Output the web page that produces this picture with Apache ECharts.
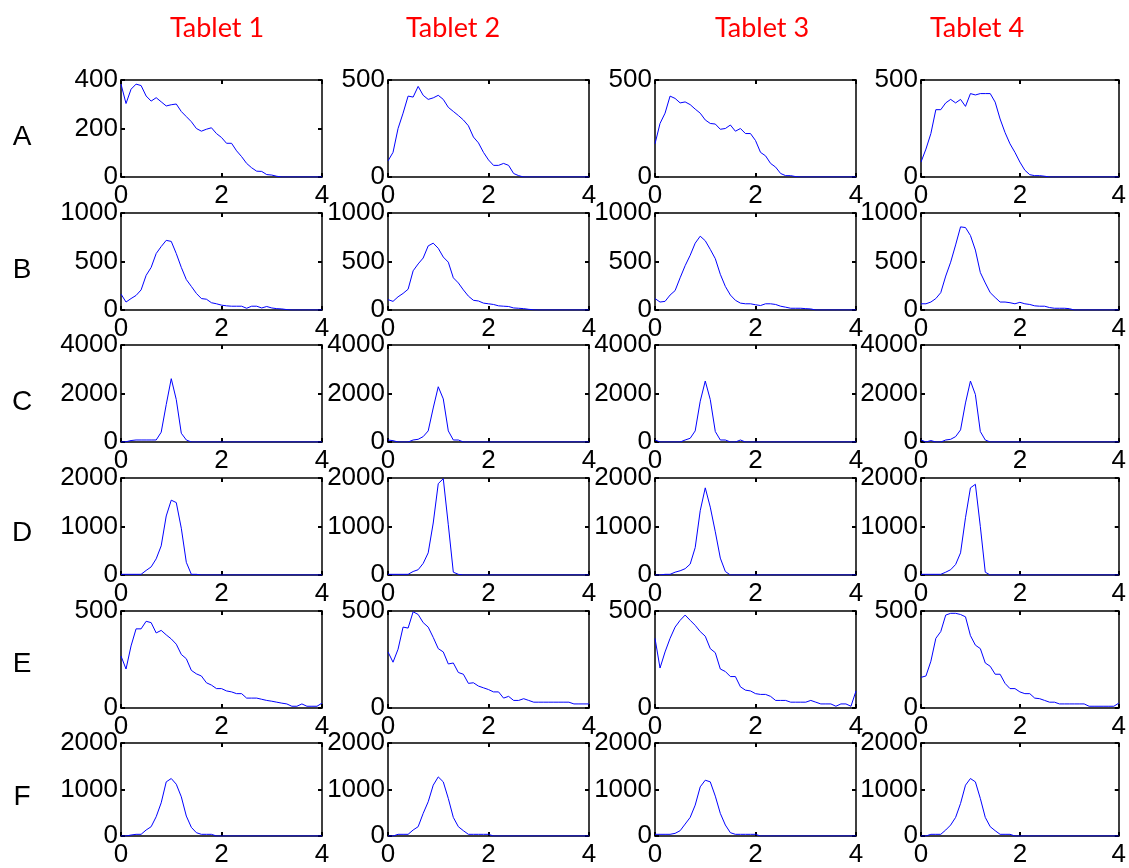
<!DOCTYPE html>
<html><head><meta charset="utf-8">
<script src="https://cdn.jsdelivr.net/npm/echarts@6/dist/echarts.min.js"></script>
<style>html,body{margin:0;padding:0;background:#fff}#c{width:1129px;height:868px}</style>
</head><body><div id="c"></div>
<script>
const xs = [0,0.1,0.2,0.3,0.4,0.5,0.6,0.7,0.8,0.9,1,1.1,1.2,1.3,1.4,1.5,1.6,1.7,1.8,1.9,2,2.1,2.2,2.3,2.4,2.5,2.6,2.7,2.8,2.9,3,3.1,3.2,3.3,3.4,3.5,3.6,3.7,3.8,3.9,4];
const columnTitles = ['Tablet 1','Tablet 2','Tablet 3','Tablet 4'];
const rowNames = ['A','B','C','D','E','F'];
const xTicks = [0,2,4];
const yMax = [[400,500,500,500],[1000,1000,1000,1000],[4000,4000,4000,4000],[2000,2000,2000,2000],[500,500,500,500],[2000,2000,2000,2000]];
const yStep = [[200,500,500,500],[500,500,500,500],[2000,2000,2000,2000],[1000,1000,1000,1000],[500,500,500,500],[1000,1000,1000,1000]];

const a1 = [383,303,362,383,377,334,313,327,310,293,298,301,270,249,228,200,189,197,203,179,163,139,139,108,84,56,38,24,23,10,8,3,0,0,0,0,0,0,0,0,0];
const a2 = [83,127,250,329,417,412,467,421,400,408,421,400,359,338,317,294,264,206,176,127,88,60,60,70,60,18,7,0,0,0,0,0,0,0,0,0,0,0,0,0,0];
const a3 = [171,276,329,417,405,382,387,373,350,329,294,276,273,246,250,268,236,250,224,224,188,127,109,70,51,18,7,7,2,0,0,0,0,0,0,0,0,0,0,0,0];
const a4 = [77,144,224,347,347,382,400,382,400,364,430,423,430,430,430,386,299,229,171,127,77,35,12,7,7,4,0,0,0,0,0,0,0,0,0,0,0,0,0,0,0];
const b1 = [164,82,118,150,207,357,439,582,654,718,707,582,439,314,243,171,118,111,75,64,50,43,39,39,39,18,39,39,21,36,21,14,11,4,0,0,0,0,0,0,0];
const b2 = [107,89,136,171,214,404,475,536,661,689,636,546,493,332,279,207,143,100,93,71,64,57,43,39,36,21,18,14,7,2,0,0,0,0,0,0,0,0,0,0,0];
const b3 = [118,82,89,154,200,332,457,564,689,761,714,625,529,368,243,154,100,71,64,64,54,46,64,64,57,39,29,18,18,18,14,11,0,0,0,0,0,0,0,0,0];
const b4 = [64,64,82,118,179,350,493,671,857,850,768,618,386,279,179,129,82,82,75,64,79,64,57,43,39,39,25,18,18,18,14,0,0,0,0,0,0,0,0,0,0];
const c1 = [0,10,60,83,83,83,83,83,403,1542,2611,1750,361,83,0,0,0,0,0,0,0,0,0,0,0,0,0,0,0,0,0,0,0,0,0,0,0,0,0,0,0];
const c2 = [83,56,0,0,0,83,111,222,458,1403,2278,1778,458,83,83,0,0,0,0,0,0,0,0,0,0,0,0,0,0,0,0,0,0,0,0,0,0,0,0,0,0];
const c3 = [83,0,0,0,0,0,83,153,458,1681,2514,1750,431,83,83,0,0,83,0,0,0,0,0,0,0,0,0,0,0,0,0,0,0,0,0,0,0,0,0,0,0];
const c4 = [83,0,60,0,0,83,111,222,500,1611,2514,1958,431,83,0,0,0,0,0,0,0,0,0,0,0,0,0,0,0,0,0,0,0,0,0,0,0,0,0,0,0];
const d1 = [14,14,14,14,14,94,167,333,601,1217,1543,1493,964,261,14,14,0,0,0,0,0,0,0,0,0,0,0,0,0,0,0,0,0,0,0,0,0,0,0,0,0];
const d2 = [14,14,14,14,14,72,109,239,457,1072,1884,1986,1036,58,14,0,0,0,0,0,0,0,0,0,0,0,0,0,0,0,0,0,0,0,0,0,0,0,0,0,0];
const d3 = [0,0,14,14,58,87,130,225,565,1326,1797,1399,891,348,72,0,0,0,0,0,0,0,0,0,0,0,0,0,0,0,0,0,0,0,0,0,0,0,0,0,0];
const d4 = [14,14,14,14,14,58,109,217,457,1181,1797,1870,1000,58,0,0,0,0,0,0,0,0,0,0,0,0,0,0,0,0,0,0,0,0,0,0,0,0,0,0,0];
const e1 = [268,201,320,408,408,447,440,387,400,377,356,329,276,254,194,176,165,130,118,100,100,88,83,74,74,51,51,51,45,39,35,30,25,21,9,9,21,9,9,9,25];
const e2 = [289,236,303,417,412,496,482,440,417,364,306,289,227,232,183,174,127,130,113,104,95,83,83,51,60,39,39,48,39,30,30,30,30,30,30,30,30,21,21,21,21];
const e3 = [359,206,289,359,417,452,479,452,426,394,370,306,285,201,188,162,162,109,92,88,74,70,70,60,39,39,39,30,30,30,30,39,30,21,21,21,9,21,21,9,88];
const e4 = [158,165,241,359,394,479,488,488,482,470,373,324,306,232,215,174,174,127,100,100,83,74,74,51,48,39,30,30,21,21,21,21,21,21,9,9,9,9,9,9,25];
const f1 = [0,0,21,36,36,129,200,414,714,1164,1236,1114,843,429,186,71,36,36,36,0,0,0,0,0,0,0,0,0,0,0,0,0,0,0,0,0,0,0,0,0,0];
const f2 = [0,0,36,36,36,129,200,486,736,1093,1271,1164,807,400,200,114,36,36,36,36,36,0,0,0,0,0,0,0,0,0,0,0,0,0,0,0,0,0,0,0,0];
const f3 = [36,36,36,36,57,114,257,400,664,1057,1200,1164,857,486,236,71,36,36,36,36,36,0,0,0,0,0,0,0,0,0,0,0,0,0,0,0,0,0,0,0,0];
const f4 = [0,0,36,36,36,129,236,400,700,1093,1236,1164,807,400,200,114,36,36,36,0,0,0,0,0,0,0,0,0,0,0,0,0,0,0,0,0,0,0,0,0,0];

const panels = [[a1,a2,a3,a4],[b1,b2,b3,b4],[c1,c2,c3,c4],[d1,d2,d3,d4],[e1,e2,e3,e4],[f1,f2,f3,f4]];

const colLeft = [121, 388, 655, 921];
const rowTop = [80, 213, 345, 478, 611, 743];
const W = 201, H = 97;
const labelFont = {fontFamily: "'Liberation Sans', Arial, sans-serif", fontSize: 26, color: '#000', formatter: v => String(v)};

const grid = [], xAxis = [], yAxis = [], series = [];
let g = 0;
for (let r = 0; r < 6; r++) {
  for (let c = 0; c < 4; c++) {
    grid.push({left: colLeft[c], top: rowTop[r], width: W, height: H, show: false, containLabel: false});
    const line = {show: true, onZero: false, lineStyle: {color: '#000', width: 1.5}};
    const tick = {show: true, inside: true, length: 4, lineStyle: {color: '#000', width: 2}};
    xAxis.push({type: 'value', gridIndex: g, min: xTicks[0], max: xTicks[2], interval: xTicks[1] - xTicks[0], position: 'bottom',
      axisLine: line, axisTick: tick, splitLine: {show: false},
      axisLabel: Object.assign({margin: 6}, labelFont)});
    xAxis.push({type: 'value', gridIndex: g, min: xTicks[0], max: xTicks[2], interval: xTicks[1] - xTicks[0], position: 'top',
      axisLine: line, axisTick: tick, splitLine: {show: false}, axisLabel: {show: false}});
    yAxis.push({type: 'value', gridIndex: g, min: 0, max: yMax[r][c], interval: yStep[r][c], position: 'left',
      axisLine: line, axisTick: tick, splitLine: {show: false},
      axisLabel: Object.assign({margin: 3}, labelFont)});
    yAxis.push({type: 'value', gridIndex: g, min: 0, max: yMax[r][c], interval: yStep[r][c], position: 'right',
      axisLine: line, axisTick: tick, splitLine: {show: false}, axisLabel: {show: false}});
    series.push({type: 'line', xAxisIndex: 2 * g, yAxisIndex: 2 * g, showSymbol: false, symbol: 'none',
      lineStyle: {color: '#0000ff', width: 1}, data: xs.map((x, i) => [x, panels[r][c][i]]), z: 1});
    g++;
  }
}

const titleX = [217, 453, 762, 977];
const rowY = [137, 270, 402, 533, 664, 797];
const graphic = [];
columnTitles.forEach((t, i) => graphic.push({type: 'text', x: titleX[i], y: 28,
  style: {text: t, fill: '#ff0000', font: '27px Lato', textAlign: 'center', textVerticalAlign: 'middle'}}));
rowNames.forEach((t, i) => graphic.push({type: 'text', x: 22, y: rowY[i],
  style: {text: t, fill: '#000', font: '28px "Liberation Sans", Arial', textAlign: 'center', textVerticalAlign: 'middle'}}));

const chart = echarts.init(document.getElementById('c'));
chart.setOption({animation: false, backgroundColor: '#fff', grid, xAxis, yAxis, series, graphic});
</script></body></html>
